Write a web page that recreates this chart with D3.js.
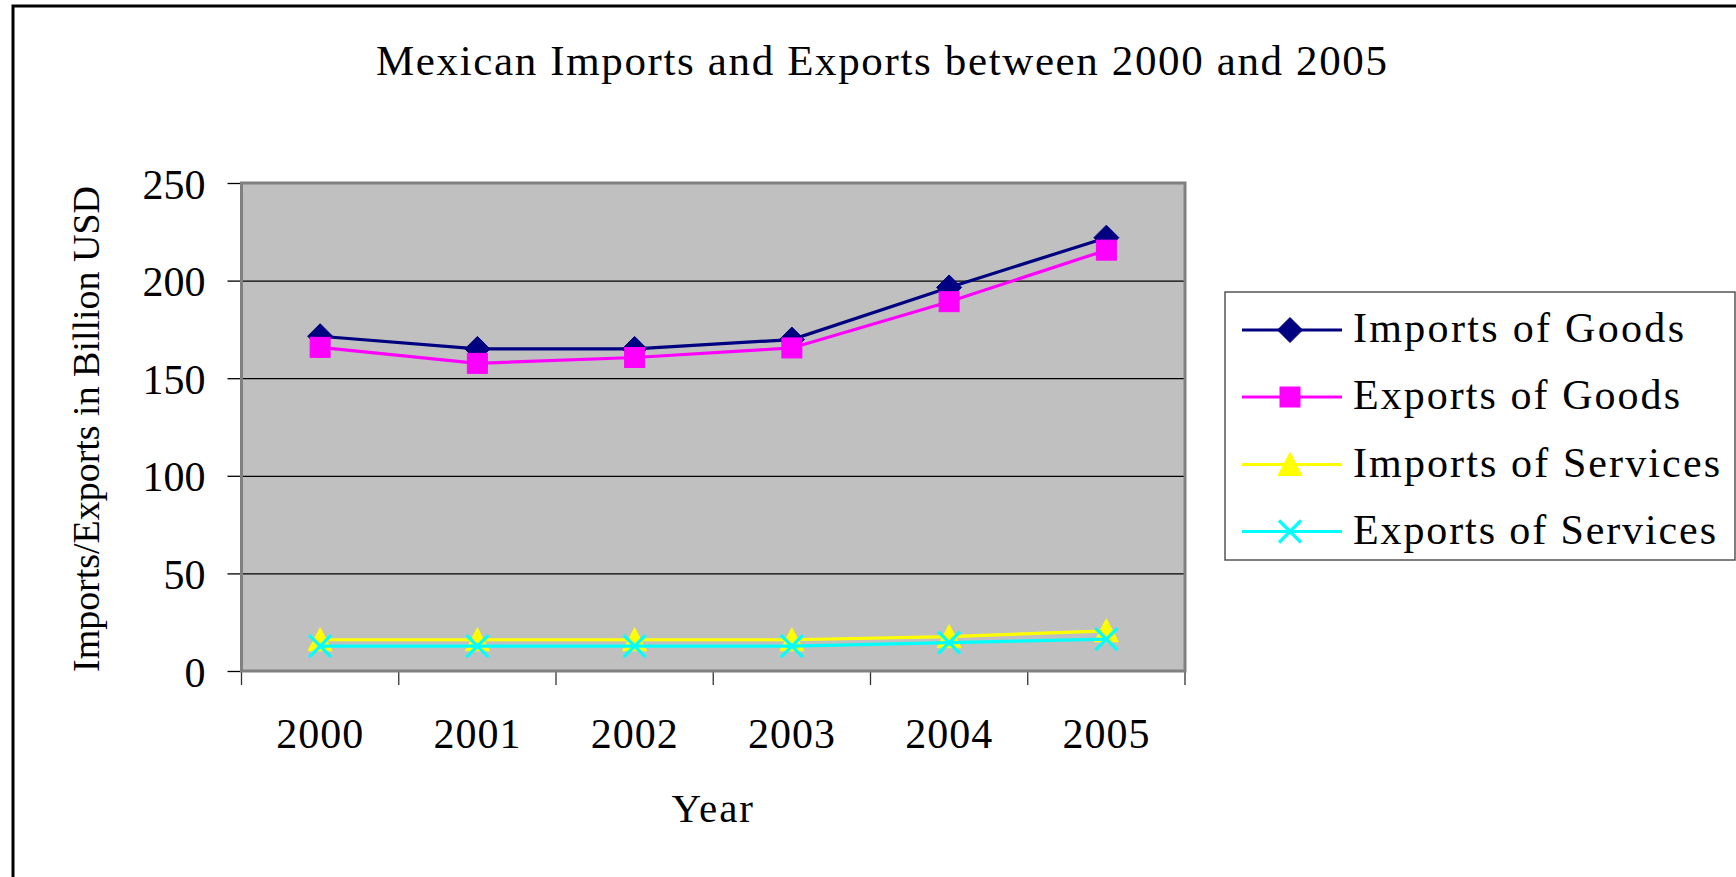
<!DOCTYPE html>
<html>
<head>
<meta charset="utf-8">
<script src="https://cdn.jsdelivr.net/npm/d3@7"></script>
<style>
  html, body { margin: 0; padding: 0; background: #fff; }
  svg { display: block; }
  text { font-family: "Liberation Serif", "Times New Roman", serif; fill: #000; }
</style>
</head>
<body>
<svg id="chart" width="1736" height="877"></svg>
<script>
// ---- data ----
const years = ["2000", "2001", "2002", "2003", "2004", "2005"];
const importsGoods    = [171.5, 165.0, 165.0, 169.8, 196.5, 222.0];
const exportsGoods    = [165.8, 157.6, 160.6, 165.5, 189.2, 215.6];
const importsServices = [16.0, 16.0, 16.0, 16.0, 17.6, 20.6];
const exportsServices = [12.7, 12.7, 12.7, 12.7, 14.5, 16.3];
const yTicks = [0, 50, 100, 150, 200, 250];
const seriesNames = ["Imports of Goods", "Exports of Goods", "Imports of Services", "Exports of Services"];
const titleText = "Mexican Imports and Exports between 2000 and 2005";
const xTitle = "Year";
const yTitle = "Imports/Exports in Billion USD";

// ---- layout ----
const svg = d3.select("#chart");
const L = 241.5, R = 1185, T = 183, B = 671;

const x = d3.scaleBand().domain(years).range([L, R]);
const y = d3.scaleLinear().domain([0, 250]).range([B, T]);
const cx = d => x(d) + x.bandwidth() / 2;

const series = [
  { name: seriesNames[0], values: importsGoods,    color: "#000080", marker: "diamond" },
  { name: seriesNames[1], values: exportsGoods,    color: "#FF00FF", marker: "square" },
  { name: seriesNames[2], values: importsServices, color: "#FFFF00", marker: "triangle" },
  { name: seriesNames[3], values: exportsServices, color: "#00FFFF", marker: "cross" }
];

// outer frame
svg.append("rect").attr("x", 13).attr("y", 6).attr("width", 1740).attr("height", 890)
  .attr("fill", "#fff").attr("stroke", "#000").attr("stroke-width", 3);

// title
svg.append("text").attr("x", 881.5).attr("y", 75).attr("text-anchor", "middle")
  .attr("font-size", 43).attr("textLength", 1011).attr("lengthAdjust", "spacing")
  .text(titleText);

// plot background
svg.append("rect").attr("x", L).attr("y", T).attr("width", R - L).attr("height", B - T)
  .attr("fill", "#C0C0C0");

// gridlines
const grid = svg.append("g").attr("transform", `translate(${L},0)`)
  .call(d3.axisLeft(y).tickValues(yTicks.filter(v => v > 0 && v < 250)).tickSize(-(R - L)).tickFormat(""));
grid.select(".domain").remove();
grid.selectAll("line").attr("stroke", "#000").attr("stroke-width", 1.2);

// y axis
const yAxis = svg.append("g").attr("transform", `translate(${L},0)`)
  .call(d3.axisLeft(y).tickValues(yTicks).tickSize(14).tickPadding(22));
yAxis.select(".domain").remove();
yAxis.selectAll("line").attr("stroke", "#000").attr("stroke-width", 1.3);
yAxis.selectAll("text").attr("font-size", 42).attr("dy", "0.36em")
  .attr("font-family", "Liberation Serif, Times New Roman, serif").attr("fill", "#000");

// x axis labels (category centers)
const xAxis = svg.append("g").attr("transform", `translate(0,${B})`)
  .call(d3.axisBottom(x).tickSize(0).tickPadding(0));
xAxis.select(".domain").remove();
xAxis.selectAll("text").attr("font-size", 42).attr("y", 77).attr("dy", 0)
  .attr("letter-spacing", 1)
  .attr("font-family", "Liberation Serif, Times New Roman, serif").attr("fill", "#000");

// x boundary ticks
const bounds = years.map(d => x(d)).concat([x(years[years.length - 1]) + x.bandwidth()]);
svg.append("g").selectAll("line").data(bounds).join("line")
  .attr("x1", d => d).attr("x2", d => d).attr("y1", B).attr("y2", B + 14)
  .attr("stroke", "#333").attr("stroke-width", 1.3);

// plot border
svg.append("rect").attr("x", L).attr("y", T).attr("width", R - L).attr("height", B - T)
  .attr("fill", "none").attr("stroke", "#808080").attr("stroke-width", 3);

// axis titles
svg.append("text").attr("x", (L + R) / 2).attr("y", 822).attr("text-anchor", "middle")
  .attr("font-size", 41).attr("letter-spacing", 2).text(xTitle);
svg.append("text").attr("transform", "translate(99,429) rotate(-90)").attr("text-anchor", "middle")
  .attr("font-size", 38).attr("textLength", 486).attr("lengthAdjust", "spacing").text(yTitle);

// markers
function drawMarker(g, type, color, px, py) {
  if (type === "diamond") {
    g.append("path").attr("d", `M${px},${py - 12.5}L${px + 12.5},${py}L${px},${py + 12.5}L${px - 12.5},${py}Z`)
      .attr("fill", color).attr("stroke", color).attr("stroke-width", 1);
  } else if (type === "square") {
    g.append("rect").attr("x", px - 10).attr("y", py - 10).attr("width", 20).attr("height", 20)
      .attr("fill", color).attr("stroke", color).attr("stroke-width", 1);
  } else if (type === "triangle") {
    g.append("path").attr("d", `M${px},${py - 12}L${px + 12},${py + 11}L${px - 12},${py + 11}Z`)
      .attr("fill", color).attr("stroke", color).attr("stroke-width", 1);
  } else if (type === "cross") {
    g.append("path").attr("d", `M${px - 11},${py - 11}L${px + 11},${py + 11}M${px + 11},${py - 11}L${px - 11},${py + 11}`)
      .attr("fill", "none").attr("stroke", color).attr("stroke-width", 3.2);
  }
}

const line = d3.line().x((d, i) => cx(years[i])).y(d => y(d));
series.forEach(s => {
  const g = svg.append("g");
  g.append("path").datum(s.values).attr("d", line).attr("fill", "none")
    .attr("stroke", s.color).attr("stroke-width", 3.2);
  s.values.forEach((v, i) => drawMarker(g, s.marker, s.color, cx(years[i]), y(v)));
});

// legend
const lg = svg.append("g");
lg.append("rect").attr("x", 1225).attr("y", 292).attr("width", 510).attr("height", 268)
  .attr("fill", "#fff").attr("stroke", "#555").attr("stroke-width", 1.5);
const rowY = [330, 397, 464.5, 531.5];
const legendWidths = [331, 327, 367, 363];
series.forEach((s, i) => {
  const ry = rowY[i];
  lg.append("line").attr("x1", 1242).attr("x2", 1342).attr("y1", ry).attr("y2", ry)
    .attr("stroke", s.color).attr("stroke-width", 3.2);
  drawMarker(lg, s.marker, s.color, 1290, ry);
  lg.append("text").attr("x", 1353).attr("y", ry + 12).attr("font-size", 42)
    .attr("textLength", legendWidths[i]).attr("lengthAdjust", "spacing").text(s.name);
});
</script>
</body>
</html>
